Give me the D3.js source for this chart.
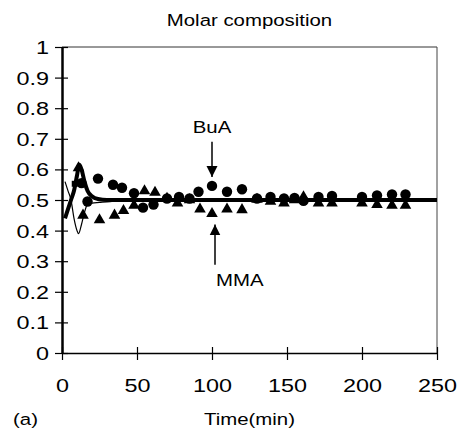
<!DOCTYPE html>
<html>
<head>
<meta charset="utf-8">
<script src="https://cdn.jsdelivr.net/npm/d3@7"></script>
<style>
  body { margin: 0; background: #fff; }
  text { font-family: "Liberation Sans", Arial, sans-serif; fill: #000; }
</style>
</head>
<body>
<svg id="chart"></svg>
<script>
// Measured data (BuA = circles, MMA = triangles)
const buaTime  = [13, 17, 24, 34, 40, 48, 54, 61, 70, 78, 85, 91, 100, 110, 120, 130, 139, 148, 155, 161, 171, 180, 200, 210, 220, 229];
const buaValue = [0.555, 0.495, 0.57, 0.55, 0.54, 0.522, 0.475, 0.485, 0.505, 0.51, 0.505, 0.527, 0.546, 0.527, 0.535, 0.505, 0.51, 0.505, 0.507, 0.497, 0.51, 0.513, 0.51, 0.515, 0.518, 0.518];

const mmaTime  = [11, 14, 25, 35, 41, 48, 55, 62, 70, 77, 85, 92, 100, 110, 120, 130, 139, 148, 155, 161, 171, 180, 200, 210, 220, 229];
const mmaValue = [0.605, 0.45, 0.435, 0.45, 0.465, 0.482, 0.53, 0.525, 0.505, 0.49, 0.5, 0.47, 0.455, 0.47, 0.468, 0.502, 0.495, 0.49, 0.5, 0.51, 0.49, 0.49, 0.49, 0.485, 0.482, 0.482];

// first sample (small square)
const startTime  = [8.5];
const startValue = [0.553];

// model curves
const modelBuaTime  = [2, 4, 6, 8, 10, 11.5, 13, 15, 17, 20, 24, 30, 250];
const modelBuaValue = [0.44, 0.47, 0.5, 0.53, 0.58, 0.615, 0.6, 0.56, 0.53, 0.512, 0.503, 0.5, 0.5];
const modelMmaTime  = [2, 4, 6, 8, 10, 11, 13, 15, 17, 20, 25, 32, 40, 250];
const modelMmaValue = [0.56, 0.53, 0.5, 0.44, 0.4, 0.39, 0.42, 0.46, 0.485, 0.49, 0.492, 0.495, 0.5, 0.5];

const xTicks = [0, 50, 100, 150, 200, 250];
const yTicks = [0, 0.1, 0.2, 0.3, 0.4, 0.5, 0.6, 0.7, 0.8, 0.9, 1];

const titleText = "Molar composition";
const xLabel = "Time(min)";
const panelLabel = "(a)";

// arrows: time, tail value, tip value, label value
const annotations = [
  { name: "BuA", time: 100, from: 0.69, to: 0.575, labelValue: 0.72 },
  { name: "MMA", time: 102, from: 0.288, to: 0.42, labelValue: 0.22 }
];

const W = 457, H = 433;
const margin = { top: 47, right: 20, bottom: 80, left: 62 };
const iw = W - margin.left - margin.right;
const ih = H - margin.top - margin.bottom;
const sx = 1.2;     // text is drawn a bit wide in the original
const tickSx = 1.3; // digits even wider

const svg = d3.select("#chart").attr("width", W).attr("height", H);
const g = svg.append("g").attr("transform", `translate(${margin.left},${margin.top})`);

const x = d3.scaleLinear().domain([0, 250]).range([0, iw]);
const y = d3.scaleLinear().domain([0, 1]).range([ih, 0]);

function wideText(parent, tx, ty, str, size, anchor) {
  return parent.append("text")
    .attr("transform", `translate(${tx},${ty}) scale(${sx},1)`)
    .attr("text-anchor", anchor || "middle")
    .style("font-size", size + "px")
    .text(str);
}

// frame (top and right)
g.append("line").attr("x1", 0).attr("x2", iw).attr("y1", 0).attr("y2", 0)
  .attr("stroke", "#333").attr("stroke-width", 1);
g.append("line").attr("x1", iw).attr("x2", iw).attr("y1", 0).attr("y2", ih)
  .attr("stroke", "#444").attr("stroke-width", 1);

// axes
const yAxis = g.append("g")
  .call(d3.axisLeft(y).tickValues(yTicks).tickSizeOuter(0)
    .tickFormat(d => String(+d.toFixed(1))));
yAxis.select(".domain").attr("stroke-width", 2.5);
yAxis.selectAll(".tick line").attr("x1", 6).attr("x2", -7).attr("stroke-width", 1.2);
yAxis.selectAll(".tick text")
  .attr("x", null).attr("dy", null)
  .attr("transform", `translate(-13,6.5) scale(${tickSx},1)`)
  .style("font-size", "18px").style("font-family", "Liberation Sans, Arial, sans-serif");

const xAxis = g.append("g").attr("transform", `translate(0,${ih})`)
  .call(d3.axisBottom(x).tickValues(xTicks).tickSizeOuter(0));
xAxis.select(".domain").attr("stroke-width", 1.5);
xAxis.selectAll(".tick line").attr("y1", -6).attr("y2", 7).attr("stroke-width", 1.2);
xAxis.selectAll(".tick text")
  .attr("y", null).attr("dy", null)
  .attr("transform", `translate(0,39) scale(${tickSx},1)`)
  .style("font-size", "18px").style("font-family", "Liberation Sans, Arial, sans-serif");

// model lines
const line = d3.line().x(d => x(d[0])).y(d => y(d[1])).curve(d3.curveMonotoneX);
g.append("path")
  .datum(d3.zip(modelMmaTime, modelMmaValue))
  .attr("fill", "none").attr("stroke", "#000").attr("stroke-width", 1.2)
  .attr("d", line);
g.append("path")
  .datum(d3.zip(modelBuaTime, modelBuaValue))
  .attr("fill", "none").attr("stroke", "#000").attr("stroke-width", 4)
  .attr("d", line);

// markers
g.selectAll(".bua").data(d3.zip(buaTime, buaValue)).join("circle")
  .attr("class", "bua")
  .attr("cx", d => x(d[0])).attr("cy", d => y(d[1])).attr("r", 5.2)
  .attr("fill", "#000");

const tri = d3.symbol().type(d3.symbolTriangle).size(58);
g.selectAll(".mma").data(d3.zip(mmaTime, mmaValue)).join("path")
  .attr("class", "mma")
  .attr("transform", d => `translate(${x(d[0])},${y(d[1])})`)
  .attr("d", tri).attr("fill", "#000");

g.selectAll(".start").data(d3.zip(startTime, startValue)).join("rect")
  .attr("class", "start")
  .attr("x", d => x(d[0]) - 3).attr("y", d => y(d[1]) - 3)
  .attr("width", 6).attr("height", 6).attr("fill", "#000");

// arrows + labels
svg.append("defs").append("marker")
  .attr("id", "head").attr("viewBox", "0 0 10 10")
  .attr("refX", 10).attr("refY", 5)
  .attr("markerWidth", 11).attr("markerHeight", 17)
  .attr("markerUnits", "userSpaceOnUse")
  .attr("orient", "auto")
  .append("path").attr("d", "M0,0 L10,5 L0,10 Z").attr("fill", "#000");

annotations.forEach(a => {
  g.append("line")
    .attr("x1", x(a.time)).attr("x2", x(a.time))
    .attr("y1", y(a.from)).attr("y2", y(a.to))
    .attr("stroke", "#000").attr("stroke-width", 1.5)
    .attr("marker-end", "url(#head)");
});
wideText(g, x(annotations[0].time), y(annotations[0].labelValue), annotations[0].name, 17, "middle");
wideText(g, x(annotations[1].time) + 1, y(annotations[1].labelValue), annotations[1].name, 17, "start");

// titles
wideText(svg, margin.left + iw / 2, 26, titleText, 17, "middle");
wideText(svg, margin.left + iw / 2, 425, xLabel, 17, "middle");
wideText(svg, 13, 425, panelLabel, 17, "start");
</script>
</body>
</html>
